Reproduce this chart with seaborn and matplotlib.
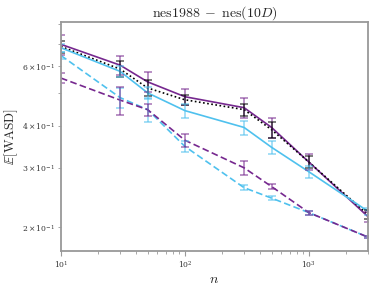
import matplotlib
matplotlib.use("Agg")
import matplotlib.pyplot as plt
import seaborn as sns
import pandas as pd

sns.set_style("ticks")
plt.rcParams["mathtext.fontset"] = "cm"
plt.rcParams["font.family"] = ["DejaVu Serif"]
plt.rcParams["axes.edgecolor"] = "#999999"
plt.rcParams["xtick.color"] = "#999999"
plt.rcParams["ytick.color"] = "#999999"
plt.rcParams["xtick.labelcolor"] = "#333333"
plt.rcParams["ytick.labelcolor"] = "#333333"

n_values = [10, 30, 50, 100, 300, 500, 1000, 3000]

series_names = ["purple_solid", "black_dotted", "blue_solid", "blue_dashed", "purple_dashed"]

purple_solid = [0.696, 0.604, 0.539, 0.487, 0.452, 0.395, 0.312, 0.215]
purple_solid_err = [0.047, 0.041, 0.036, 0.026, 0.031, 0.027, 0.017, 0.007]

black_dotted = [0.686, 0.588, 0.517, 0.477, 0.446, 0.389, 0.312, 0.218]
black_dotted_err = [0.028, 0.032, 0.028, 0.016, 0.018, 0.021, 0.013, 0.007]

blue_solid = [0.680, 0.579, 0.500, 0.443, 0.395, 0.345, 0.292, 0.223]
blue_solid_err = [0.018, 0.023, 0.020, 0.021, 0.019, 0.016, 0.012, 0.005]

blue_dashed = [0.645, 0.484, 0.446, 0.347, 0.262, 0.244, 0.221, 0.187]
blue_dashed_err = [0.017, 0.033, 0.036, 0.012, 0.005, 0.003, 0.003, 0.001]

purple_dashed = [0.553, 0.476, 0.446, 0.362, 0.300, 0.264, 0.221, 0.187]
purple_dashed_err = [0.019, 0.045, 0.018, 0.017, 0.014, 0.005, 0.003, 0.001]

values = [purple_solid, black_dotted, blue_solid, blue_dashed, purple_dashed]
errors = [purple_solid_err, black_dotted_err, blue_solid_err, blue_dashed_err, purple_dashed_err]

PURPLE = "#76288f"
BLUE = "#4fc1ee"
palette = {"purple_solid": PURPLE, "black_dotted": "black", "blue_solid": BLUE,
           "blue_dashed": BLUE, "purple_dashed": PURPLE}
dashes = {"purple_solid": "", "black_dotted": (1, 1.5), "blue_solid": "",
          "blue_dashed": (4, 2), "purple_dashed": (4, 2)}

rows = []
for name, vals in zip(series_names, values):
    for n, v in zip(n_values, vals):
        rows.append({"n": n, "value": v, "series": name})
df = pd.DataFrame(rows)

fig, ax = plt.subplots(figsize=(3.74, 2.87), dpi=100)
fig.subplots_adjust(left=0.163, right=0.984, top=0.923, bottom=0.125)

sns.lineplot(data=df, x="n", y="value", hue="series", style="series",
             palette=palette, dashes=dashes, linewidth=1.2, legend=False, ax=ax)

for name, vals, errs in zip(series_names, values, errors):
    ax.errorbar(n_values, vals, yerr=errs, fmt="none", ecolor=palette[name],
                elinewidth=1.2, capsize=3, capthick=1.2, alpha=0.6, clip_on=True)

ax.set_xscale("log")
ax.set_yscale("log")
ax.set_xlim(10, 3000)
ax.set_ylim(0.17, 0.81)

for side in ["top", "right", "left", "bottom"]:
    ax.spines[side].set_visible(True)
    ax.spines[side].set_linewidth(1.3)

ax.tick_params(axis="both", which="both", labelsize=5.5, pad=2.5)
ax.set_title(r"$\mathrm{nes1988}\;-\;\mathrm{nes}(10D)$", fontsize=10, pad=3)
ax.set_xlabel(r"$n$", fontsize=10, labelpad=1)
ax.set_ylabel(r"$\mathbb{E}[\mathrm{WASD}]$", fontsize=9.5, labelpad=0)
ax.yaxis.set_label_coords(-0.135, 0.5)

fig.savefig("out.png", dpi=100)
